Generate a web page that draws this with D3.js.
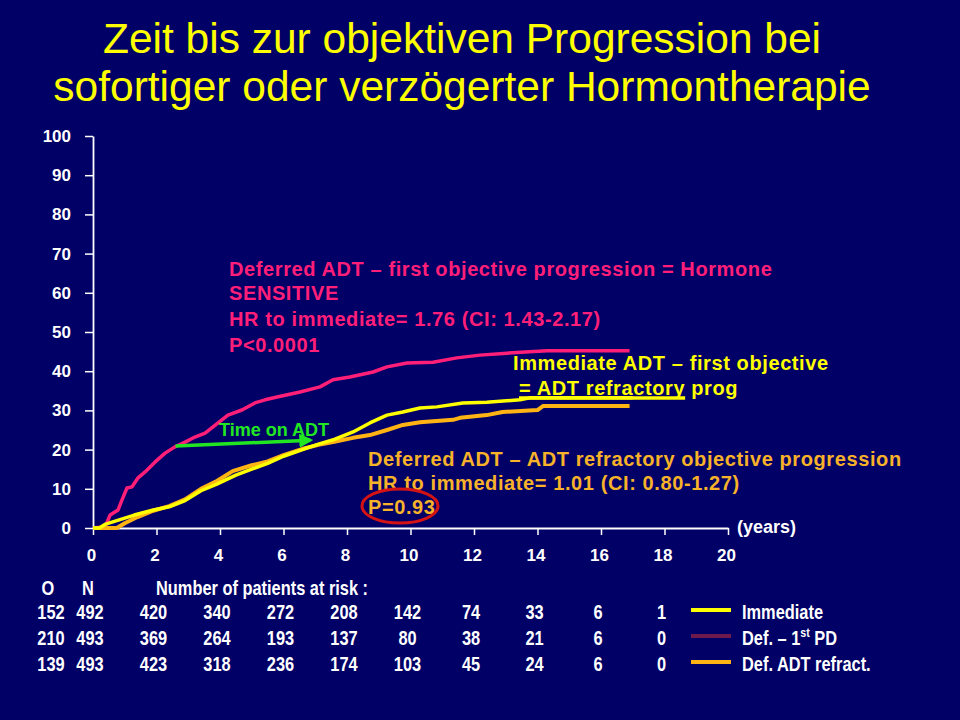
<!DOCTYPE html>
<html>
<head>
<meta charset="utf-8">
<script src="https://cdn.jsdelivr.net/npm/d3@7"></script>
<style>
  html, body { margin: 0; padding: 0; background: #000066; }
  svg { display: block; }
  text { font-family: "Liberation Sans", Arial, sans-serif; }
  .narrow text { font-family: "Liberation Sans", Arial, sans-serif; font-weight: bold; }
</style>
</head>
<body>
<div id="chart"></div>
<script>
// Kaplan-Meier Kurven (Jahre, % mit Progression)
const immTimes = [0, 0.2, 0.4, 0.8, 1.3, 1.9, 2.4, 2.9, 3.4, 3.9, 4.5, 5.0, 5.5, 6.0, 6.6, 7.1, 7.6, 7.78, 8.19, 8.72, 9.26, 9.76, 10.3, 10.83, 11.65, 12.4, 13.45, 13.76, 17.0];
const immValues = [0, 0, 1, 2, 3.3, 4.6, 5.4, 7, 9.5, 11.2, 13.5, 15, 16.5, 18.3, 20, 21.4, 22.6, 23.2, 24.5, 26.8, 28.8, 29.6, 30.6, 30.9, 31.9, 32.1, 32.7, 33.2, 33.2];

const defPdTimes = [0, 0.38, 0.54, 0.79, 0.91, 1.07, 1.23, 1.42, 1.64, 1.95, 2.27, 2.58, 2.9, 3.21, 3.53, 3.94, 4.25, 4.69, 5.1, 5.42, 5.8, 6.52, 7.15, 7.56, 8.09, 8.82, 9.26, 9.89, 10.71, 11.46, 12.19, 13.04, 14.3, 16.9];
const defPdValues = [0, 0.3, 3.3, 4.6, 7.1, 10.2, 10.5, 12.8, 14.3, 16.8, 19.1, 20.7, 21.9, 23.2, 24.2, 26.8, 28.8, 30.1, 31.9, 32.7, 33.4, 34.7, 36.0, 37.8, 38.5, 39.8, 41.1, 42.1, 42.3, 43.4, 44.1, 44.6, 45.2, 45.2];

const defRefTimes = [0, 0.75, 1.0, 1.4, 1.9, 2.4, 2.9, 3.4, 3.9, 4.4, 5.0, 5.5, 6.0, 6.6, 7.1, 7.6, 8.19, 8.72, 9.26, 9.76, 10.3, 11.34, 11.56, 12.4, 12.9, 14.0, 14.17, 16.9];
const defRefValues = [0, 0, 1.2, 2.8, 4.4, 5.6, 7.3, 10, 12, 14.5, 16, 17, 18.6, 20.2, 21.2, 22, 23.0, 23.7, 25.0, 26.3, 27.0, 27.6, 28.1, 28.8, 29.6, 30.1, 31.1, 31.1];

// Achsen
const xTicks = [0, 2, 4, 6, 8, 10, 12, 14, 16, 18, 20];
const yTicks = [0, 10, 20, 30, 40, 50, 60, 70, 80, 90, 100];

// Patienten unter Risiko
const riskTimes = [2, 4, 6, 8, 10, 12, 14, 16, 18];
const riskLabels = ["Immediate", "Def. – 1st PD", "Def. ADT refract."];
const riskO = [152, 210, 139];
const riskN = [492, 493, 493];
const riskImm = [420, 340, 272, 208, 142, 74, 33, 6, 1];
const riskDefPd = [369, 264, 193, 137, 80, 38, 21, 6, 0];
const riskDefRef = [423, 318, 236, 174, 103, 45, 24, 6, 0];

const W = 960, H = 720;
const svg = d3.select("#chart").append("svg")
    .attr("width", W).attr("height", H);

svg.append("rect").attr("width", W).attr("height", H).attr("fill", "#000066");

// Titel
const title = svg.append("text")
    .attr("text-anchor", "middle")
    .attr("fill", "#ffff00")
    .attr("font-size", "42.5px");
title.append("tspan").attr("x", 462).attr("y", 53).text("Zeit bis zur objektiven Progression bei");
title.append("tspan").attr("x", 462).attr("y", 101).text("sofortiger oder verzögerter Hormontherapie");

// Skalen
const xScale = d3.scaleLinear().domain([0, 20]).range([93, 728]);
const yScale = d3.scaleLinear().domain([0, 100]).range([528, 136]);

const xAxis = svg.append("g")
    .attr("transform", `translate(0,${yScale(0)})`)
    .call(d3.axisBottom(xScale).tickValues(xTicks).tickSize(7).tickSizeOuter(0).tickPadding(14));

const yAxis = svg.append("g")
    .attr("transform", `translate(${xScale(0)},0)`)
    .call(d3.axisLeft(yScale).tickValues(yTicks).tickSize(8).tickSizeOuter(0).tickPadding(14));

[xAxis, yAxis].forEach(ax => {
    ax.select(".domain").attr("stroke", "#ffffff").attr("stroke-width", 1.8);
    ax.selectAll(".tick line").attr("stroke", "#ffffff").attr("stroke-width", 1.5);
    ax.selectAll(".tick text")
        .attr("fill", "#ffffff")
        .attr("font-size", "17px")
        .attr("font-weight", "bold")
        .attr("font-family", "Liberation Sans, Arial, sans-serif");
});
xAxis.selectAll(".tick text").attr("dx", "-2");

svg.append("text")
    .attr("x", 737).attr("y", 533)
    .attr("fill", "#ffffff").attr("font-size", "18px").attr("font-weight", "bold")
    .text("(years)");

// Kurven
const zip = (ts, vs) => ts.map((t, i) => ({ t: t, v: vs[i] }));
const line = d3.line()
    .x(d => xScale(d.t))
    .y(d => yScale(d.v));

const curves = [
    { data: zip(defPdTimes, defPdValues), color: "#ff1f78", width: 3.5 },
    { data: zip(defRefTimes, defRefValues), color: "#ffb414", width: 4 },
    { data: zip(immTimes, immValues), color: "#ffff00", width: 3.5 }
];

curves.forEach(c => {
    svg.append("path")
        .datum(c.data)
        .attr("d", line)
        .attr("fill", "none")
        .attr("stroke", c.color)
        .attr("stroke-width", c.width)
        .attr("stroke-linejoin", "round");
});

// Pfeil "Time on ADT"
svg.append("defs").append("marker")
    .attr("id", "arrow")
    .attr("viewBox", "0 0 10 10")
    .attr("refX", 8).attr("refY", 5)
    .attr("markerWidth", 4).attr("markerHeight", 4)
    .attr("orient", "auto")
    .append("path").attr("d", "M0,0 L10,5 L0,10 z").attr("fill", "#22e622");

svg.append("line")
    .attr("x1", xScale(2.6)).attr("y1", yScale(20.9))
    .attr("x2", xScale(6.85)).attr("y2", yScale(22.4))
    .attr("stroke", "#22e622").attr("stroke-width", 3.5)
    .attr("marker-end", "url(#arrow)");

svg.append("text")
    .attr("x", 219).attr("y", 436)
    .attr("fill", "#22e622").attr("font-size", "18px").attr("font-weight", "bold")
    .text("Time on ADT");

// Anmerkungen
function block(x, lines, color) {
    lines.forEach(l => {
        svg.append("text")
            .attr("x", x).attr("y", l.y)
            .attr("fill", color)
            .attr("font-size", "20px")
            .attr("font-weight", "bold")
            .attr("letter-spacing", "0.6px")
            .text(l.s);
    });
}

block(229, [
    { s: "Deferred ADT – first objective progression = Hormone", y: 276 },
    { s: "SENSITIVE", y: 300 },
    { s: "HR to immediate= 1.76 (CI: 1.43-2.17)", y: 326 },
    { s: "P<0.0001", y: 352 }
], "#ff1f78");

block(368, [
    { s: "Deferred ADT – ADT refractory objective progression", y: 466 },
    { s: "HR to immediate= 1.01 (CI: 0.80-1.27)", y: 490 },
    { s: "P=0.93", y: 514 }
], "#f7b22a");

block(513, [
    { s: "Immediate ADT – first objective", y: 370 }
], "#ffff00");

const yl2 = svg.append("text")
    .attr("x", 519).attr("y", 395)
    .attr("fill", "#ffff00")
    .attr("font-size", "20px")
    .attr("font-weight", "bold")
    .attr("letter-spacing", "0.6px")
    .text("= ADT refractory prog");

// Unterstreichung "= ADT refractory"
const ulLen = yl2.node().getSubStringLength(0, 16);
svg.append("line")
    .attr("x1", 519).attr("x2", 519 + ulLen)
    .attr("y1", 398).attr("y2", 398)
    .attr("stroke", "#ffff00").attr("stroke-width", 3.5);

svg.append("ellipse")
    .attr("cx", 400).attr("cy", 506)
    .attr("rx", 38).attr("ry", 17)
    .attr("fill", "none")
    .attr("stroke", "#d41414").attr("stroke-width", 3);

// Tabelle: Patienten unter Risiko (schmale Schrift durch horizontale Skalierung)
const narrowX = 0.82;
const tbl = svg.append("g").attr("class", "narrow").attr("fill", "#ffffff").attr("font-size", "20px");
function cell(x, y, txt, anchor) {
    return tbl.append("text")
        .attr("transform", `translate(${x},${y}) scale(${narrowX},1)`)
        .attr("text-anchor", anchor || "middle")
        .text(txt);
}
cell(48, 595, "O");
cell(88, 595, "N");
cell(156, 595, "Number of patients at risk :", "start");

const rowY = [619, 645, 671];
const riskRows = [riskImm, riskDefPd, riskDefRef];
riskRows.forEach((row, r) => {
    cell(51, rowY[r], riskO[r]);
    cell(90, rowY[r], riskN[r]);
    row.forEach((d, i) => cell(xScale(riskTimes[i]) - 3, rowY[r], d));
});

// Legende
const legendColors = ["#ffff00", "#6e1a4c", "#ffb414"];
riskLabels.forEach((lab, i) => {
    tbl.append("line")
        .attr("x1", 691).attr("x2", 731)
        .attr("y1", rowY[i] - 9).attr("y2", rowY[i] - 9)
        .attr("stroke", legendColors[i]).attr("stroke-width", 4);
    const t = cell(742, rowY[i], "", "start");
    if (i === 1) {
        t.append("tspan").text("Def. – 1");
        t.append("tspan").attr("font-size", "13px").attr("dy", -8).text("st");
        t.append("tspan").attr("dy", 8).text(" PD");
    } else {
        t.text(lab);
    }
});
</script>
</body>
</html>
